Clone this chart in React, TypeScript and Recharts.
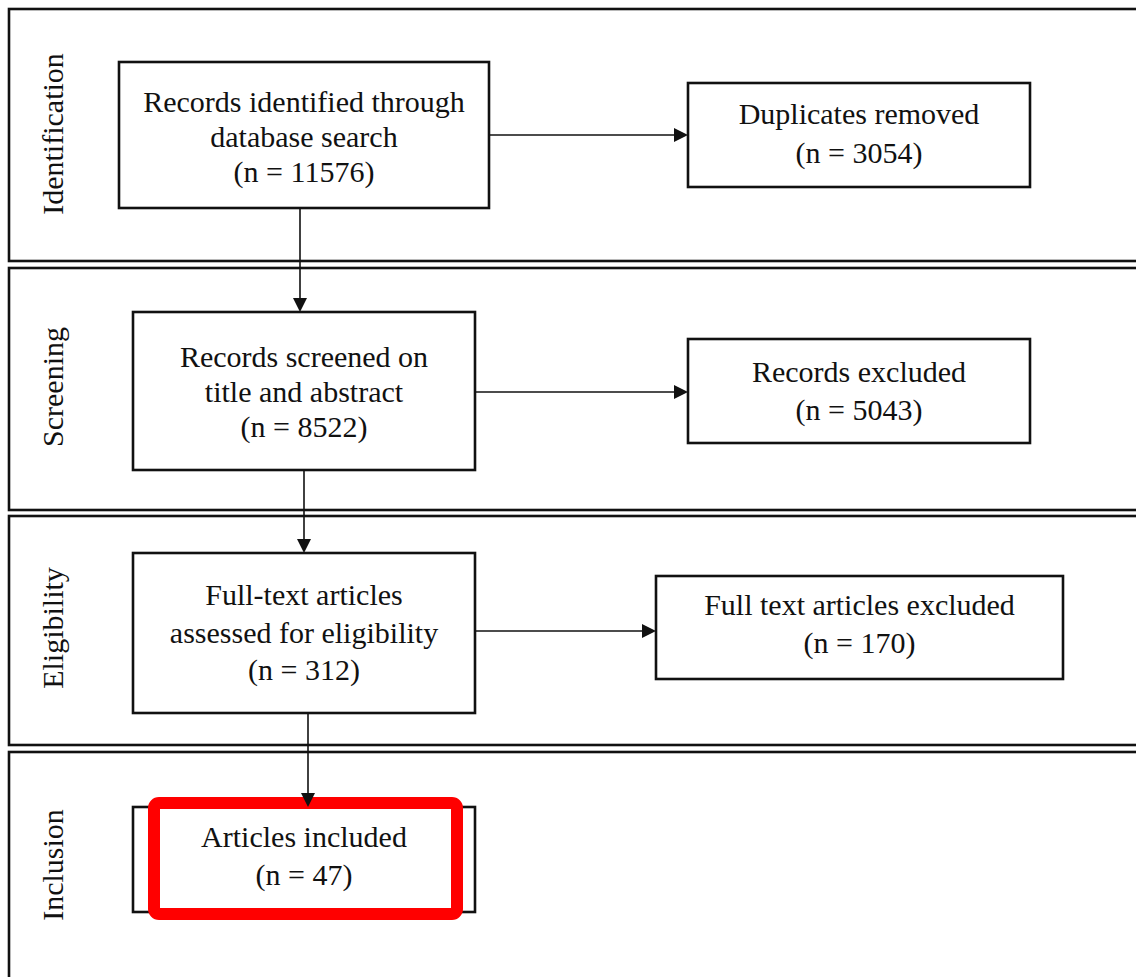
import { ReferenceArea, ReferenceLine, Scatter, ScatterChart, XAxis, YAxis } from "recharts";

// PRISMA flow: stages, box texts and counts
const stages = ["Identification", "Screening", "Eligibility", "Inclusion"];
const boxLabels = [
  ["Records identified through", "database search"],
  ["Duplicates removed"],
  ["Records screened on", "title and abstract"],
  ["Records excluded"],
  ["Full-text articles", "assessed for eligibility"],
  ["Full text articles excluded"],
  ["Articles included"],
];
const boxCounts = [11576, 3054, 8522, 5043, 312, 170, 47];
// edges between boxes (from, to)
const links = [
  [0, 1],
  [0, 2],
  [2, 3],
  [2, 4],
  [4, 5],
  [4, 6],
];
const highlighted = 6;

// layout, in a 1136 x 977 pixel frame
const W = 1136;
const H = 977;
const bandRows = [
  [9, 261],
  [268, 510],
  [516, 745],
  [752, 995],
];
const stageLabelX = 63;
const stageLabelY = [134, 387, 628, 865];
const boxRects = [
  { x1: 119, x2: 489, y1: 62, y2: 208, base: 112, gap: 35 },
  { x1: 688, x2: 1030, y1: 83, y2: 187, base: 124, gap: 38.5 },
  { x1: 133, x2: 475, y1: 312, y2: 470, base: 367, gap: 35 },
  { x1: 688, x2: 1030, y1: 339, y2: 443, base: 382, gap: 38 },
  { x1: 133, x2: 475, y1: 553, y2: 713, base: 605, gap: 37.5 },
  { x1: 656, x2: 1063, y1: 576, y2: 679, base: 615, gap: 38 },
  { x1: 133, x2: 475, y1: 807, y2: 912, base: 847, gap: 38 },
];
// y of horizontal links, x of vertical links
const linkAnchor = [135, 300, 392, 304, 631, 308];

const FONT = "'Liberation Serif', 'Times New Roman', serif";
const INK = "#111";

const boxText = boxLabels.map((lines, i) => ({
  x: (boxRects[i].x1 + boxRects[i].x2) / 2,
  y: boxRects[i].base,
  lines: [...lines, `(n = ${boxCounts[i]})`],
  gap: boxRects[i].gap,
}));

const stageText = stages.map((s, i) => ({ x: stageLabelX, y: stageLabelY[i], label: s }));

const arrowSegments = links.map(([a, b], i) => {
  const ra = boxRects[a];
  const rb = boxRects[b];
  const horizontal = rb.x1 > ra.x2;
  const c = linkAnchor[i];
  return horizontal
    ? [{ x: ra.x2, y: c }, { x: rb.x1, y: c }]
    : [{ x: c, y: ra.y2 }, { x: c, y: rb.y1 }];
});

function BoxText(props: any) {
  const { cx, cy, payload } = props;
  return (
    <text x={cx} y={cy} textAnchor="middle" fontFamily={FONT} fontSize={30} fill={INK}>
      {payload.lines.map((l: string, i: number) => (
        <tspan key={i} x={cx} dy={i === 0 ? 0 : payload.gap}>
          {l}
        </tspan>
      ))}
    </text>
  );
}

function StageText(props: any) {
  const { cx, cy, payload } = props;
  return (
    <text
      x={cx}
      y={cy}
      textAnchor="middle"
      transform={`rotate(-90 ${cx} ${cy})`}
      fontFamily={FONT}
      fontSize={30}
      fill={INK}
    >
      {payload.label}
    </text>
  );
}

function Arrow(p: any) {
  const { x1, y1, x2, y2 } = p;
  const dx = x2 - x1;
  const dy = y2 - y1;
  const len = Math.hypot(dx, dy) || 1;
  const ux = dx / len;
  const uy = dy / len;
  const hl = 14;
  const hw = 7;
  const bx = x2 - ux * hl;
  const by = y2 - uy * hl;
  const pts = `${x2},${y2} ${bx - uy * hw},${by + ux * hw} ${bx + uy * hw},${by - ux * hw}`;
  return (
    <g>
      <line x1={x1} y1={y1} x2={bx} y2={by} stroke={INK} strokeWidth={1.6} />
      <polygon points={pts} fill={INK} />
    </g>
  );
}

const plainRect = (sw: number) => (p: any) =>
  <rect x={p.x} y={p.y} width={p.width} height={p.height} fill="#fff" stroke={INK} strokeWidth={sw} />;

const redRect = (p: any) => (
  <rect
    x={p.x}
    y={p.y}
    width={p.width}
    height={p.height}
    rx={5}
    ry={5}
    fill="none"
    stroke="#ff0000"
    strokeWidth={12}
  />
);

export default function App() {
  const hb = boxRects[highlighted];
  return (
    <div style={{ position: "absolute", left: 0, top: 0, width: W, height: H, overflow: "hidden", background: "#fff" }}>
      <ScatterChart width={W} height={H} margin={{ top: 0, right: 0, bottom: 0, left: 0 }}>
        <XAxis type="number" dataKey="x" domain={[0, W]} allowDataOverflow hide />
        <YAxis type="number" dataKey="y" domain={[0, H]} reversed allowDataOverflow hide />
        {bandRows.map(([y1, y2], i) => (
          <ReferenceArea
            key={`band-${i}`}
            x1={9}
            x2={W + 20}
            y1={y1}
            y2={y2}
            ifOverflow="visible"
            shape={plainRect(2.6)}
          />
        ))}
        {boxRects.map((r, i) => (
          <ReferenceArea
            key={`box-${i}`}
            x1={r.x1}
            x2={r.x2}
            y1={r.y1}
            y2={r.y2}
            ifOverflow="visible"
            shape={plainRect(2.6)}
          />
        ))}
        {arrowSegments.map((seg, i) => (
          <ReferenceLine key={`arrow-${i}`} segment={seg} ifOverflow="visible" shape={Arrow} />
        ))}
        <ReferenceArea
          x1={hb.x1 + 21}
          x2={hb.x2 - 18}
          y1={hb.y1 - 4}
          y2={hb.y2 + 2}
          ifOverflow="visible"
          shape={redRect}
        />
        <Scatter data={stageText} shape={StageText} isAnimationActive={false} />
        <Scatter data={boxText} shape={BoxText} isAnimationActive={false} />
      </ScatterChart>
    </div>
  );
}
